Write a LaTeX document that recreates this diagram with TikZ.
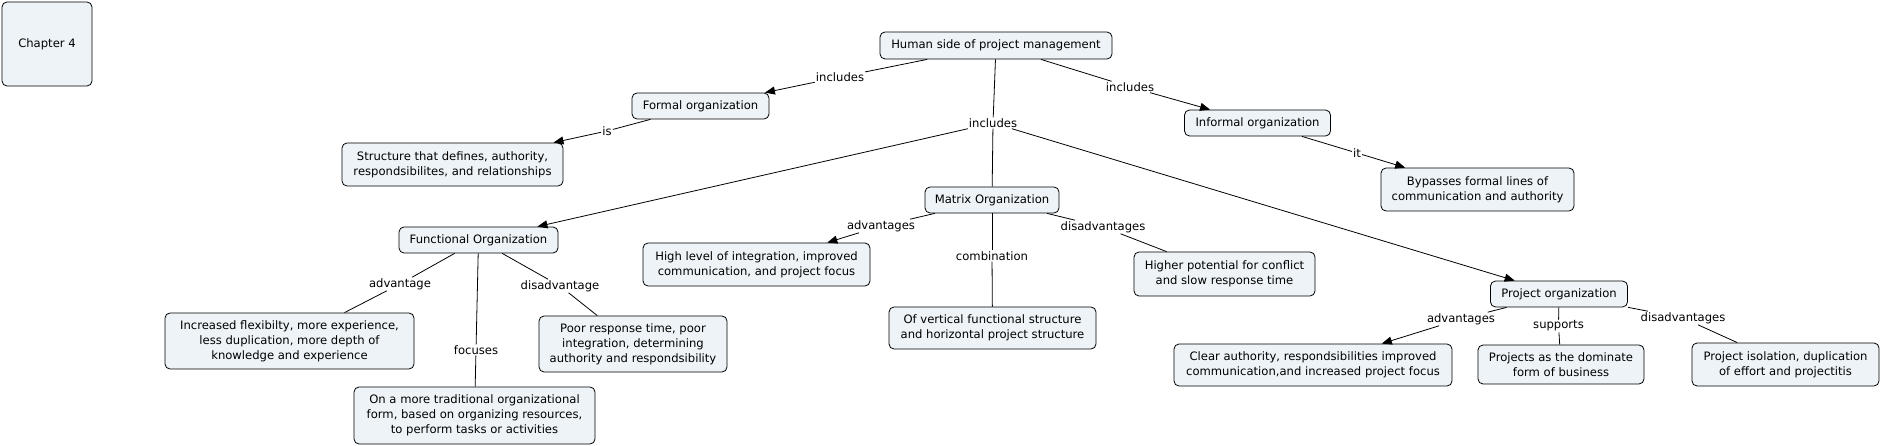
\documentclass[tikz,border=0pt]{standalone}
\usepackage{fontspec}
\setmainfont{DejaVu Sans}
\usetikzlibrary{arrows.meta}
\definecolor{boxfill}{RGB}{237,243,246}

\begin{document}
\begin{tikzpicture}[x=1pt,y=-1pt,
		concept/.style={draw, fill=boxfill, rounded corners=5pt, line width=0.8pt, align=center, inner sep=2pt, font=\fontsize{11.6}{15}\selectfont},
		linkword/.style={inner sep=1pt, font=\fontsize{11.6}{13}\selectfont},
		link/.style={line width=0.8pt},
		>={Triangle[length=10pt,width=8pt]}]
	\useasboundingbox (0,0) rectangle (1880,446);

	% concepts
	\node[concept, minimum width=90pt, minimum height=84pt] (chap) at (47,44) {Chapter 4};
	\node[concept, minimum width=232pt, minimum height=27pt] (human) at (996,45.5) {Human side of project management};
	\node[concept, minimum width=137pt, minimum height=26pt] (formal) at (700.5,106) {Formal organization};
	\node[concept, minimum width=146pt, minimum height=26pt] (informal) at (1257.5,123) {Informal organization};
	\node[concept, minimum width=221pt, minimum height=43pt] (structure) at (452.5,164.5) {Structure that defines, authority,\\respondsibilites, and relationships};
	\node[concept, minimum width=193pt, minimum height=43pt] (bypass) at (1477.5,189.5) {Bypasses formal lines of\\communication and authority};
	\node[concept, minimum width=134pt, minimum height=26pt] (matrix) at (992,200) {Matrix Organization};
	\node[concept, minimum width=159pt, minimum height=26pt] (functional) at (478.5,240) {Functional Organization};
	\node[concept, minimum width=227pt, minimum height=43pt] (highlevel) at (756.5,264.5) {High level of integration, improved\\communication, and project focus};
	\node[concept, minimum width=181pt, minimum height=44pt] (higherpot) at (1224.5,274) {Higher potential for conflict\\and slow response time};
	\node[concept, minimum width=137pt, minimum height=26pt] (projorg) at (1559,294) {Project organization};
	\node[concept, minimum width=207pt, minimum height=42pt] (vertical) at (992.5,328) {Of vertical functional structure\\and horizontal project structure};
	\node[concept, minimum width=249pt, minimum height=56pt] (increased) at (289.5,341) {Increased flexibilty, more experience,\\less duplication, more depth of\\knowledge and experience};
	\node[concept, minimum width=188pt, minimum height=56pt] (poor) at (633,344) {Poor response time, poor\\integration, determining\\authority and respondsibility};
	\node[concept, minimum width=278pt, minimum height=42pt] (clear) at (1313,365) {Clear authority, respondsibilities improved\\communication,and increased project focus};
	\node[concept, minimum width=166pt, minimum height=39pt] (dominate) at (1561,364.5) {Projects as the dominate\\form of business};
	\node[concept, minimum width=187pt, minimum height=43pt] (isolation) at (1785.5,364.5) {Project isolation, duplication\\of effort and projectitis};
	\node[concept, minimum width=241pt, minimum height=57pt] (traditional) at (474.5,415.5) {On a more traditional organizational\\form, based on organizing resources,\\to perform tasks or activities};

	% linking words
	\node[linkword] (lfor) at (840,77) {includes};
	\node[linkword] (linf) at (1130,87) {includes};
	\node[linkword] (lmid) at (993,123) {includes};
	\node[linkword] (lis) at (607,131) {is};
	\node[linkword] (lit) at (1357,153) {it};
	\node[linkword] (ladv) at (400,284) {advantage};
	\node[linkword] (ldis) at (560,286) {disadvantage};
	\node[linkword] (lfoc) at (476,350) {focuses};
	\node[linkword] (lmadv) at (881,226) {advantages};
	\node[linkword] (lcomb) at (992,256) {combination};
	\node[linkword] (lmdis) at (1103,227) {disadvantages};
	\node[linkword] (lpadv) at (1461,319) {advantages};
	\node[linkword] (lsup) at (1558.5,326) {supports};
	\node[linkword] (lpdis) at (1683,318) {disadvantages};

	% connectors
	\foreach \a/\b in {human/lfor, human/linf, human/lmid, formal/lis, informal/lit,
		functional/ladv, functional/ldis, functional/lfoc, matrix/lmadv, matrix/lcomb,
		matrix/lmdis, projorg/lpadv, projorg/lsup, projorg/lpdis,
		lmid/matrix, ladv/increased, ldis/poor, lfoc/traditional, lcomb/vertical,
		lmdis/higherpot, lsup/dominate, lpdis/isolation}
		\draw[link] (\a) -- (\b);

	\foreach \a/\b in {lfor/formal, linf/informal, lmid/functional, lmid/projorg,
		lis/structure, lit/bypass, lmadv/highlevel, lpadv/clear}
		\draw[link, ->] (\a) -- (\b);
\end{tikzpicture}
\end{document}
